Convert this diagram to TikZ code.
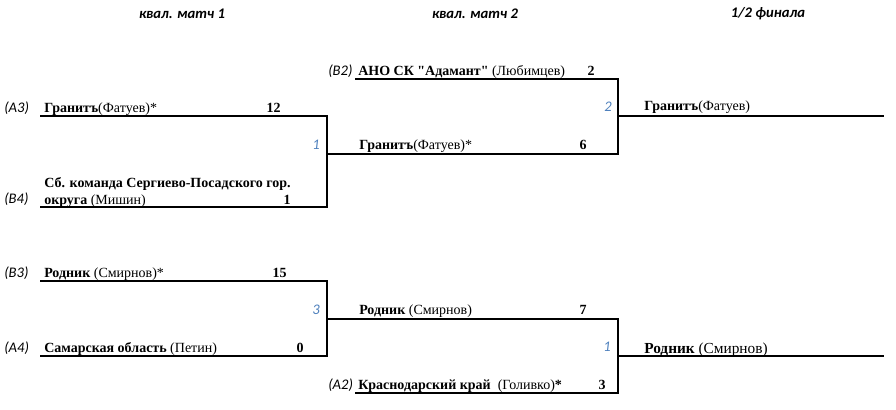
\documentclass[tikz,border=0pt]{standalone}
\usepackage{fontspec}
\setmainfont{Liberation Serif}
\newfontfamily\hdfont{Carlito}
\usepackage{xcolor}
\usetikzlibrary{positioning,calc}
\definecolor{gameblue}{HTML}{4F81BD}

\begin{document}
\begin{tikzpicture}[x=0.75pt,y=-0.75pt,
  team/.style={anchor=base west,inner sep=0pt,font=\fontsize{10.5}{12}\selectfont},
  seed/.style={anchor=base west,inner sep=0pt,font=\hdfont\itshape\fontsize{11}{12}\selectfont},
  score/.style={anchor=base east,inner sep=0pt,font=\bfseries\fontsize{10.5}{12}\selectfont},
  game/.style={anchor=base east,inner sep=0pt,text=gameblue,font=\hdfont\itshape\fontsize{11}{12}\selectfont},
  head/.style={inner sep=0pt,font=\hdfont\bfseries\itshape\fontsize{11}{12}\selectfont},
  bline/.style={line width=1.5pt}]
\useasboundingbox (0,0) rectangle (896,410);
% headings
\node[head] (h1) at (182,14) {квал. матч 1};
\node[head] (h2) at (475,14) {квал. матч 2};
\node[head] (h3) at (768,14) {1/2 финала};
% bracket ends
\coordinate (a3l) at (40,116);
\coordinate (b4l) at (40,207);
\coordinate (m1) at (327,154);
\coordinate (b2l) at (355,79);
\coordinate (m2) at (618,116);
\coordinate (f1) at (884,116);
\coordinate (b3l) at (40,281);
\coordinate (a4l) at (40,356);
\coordinate (m3) at (327,319);
\coordinate (a2l) at (355,393);
\coordinate (m4) at (618,356);
\coordinate (f2) at (884,356);
\draw[bline] (a3l) -| (m1) |- (b4l);
\draw[bline] (b2l) -| (m2) |- (m1);
\draw[bline] (m2) -- (f1);
\draw[bline] (b3l) -| (m3) |- (a4l);
\draw[bline] (a2l) -| (m4) |- (m3);
\draw[bline] (m4) -- (f2);
% match 1
\node[seed] (sa3) at (4,113) {(A3)};
\node[team] (ta3) at (44,113) {\textbf{Гранитъ}(Фатуев)*};
\node[score] (ca3) at (281,113) {12};
\node[seed] (sb4) at (4,203) {(B4)};
\node[team] (tb4) at (44,187) {\textbf{Сб. команда Сергиево-Посадского гор.}};
\node[team] (tb4b) at (44,204) {\textbf{округа} (Мишин)};
\node[score] (cb4) at (291,204) {1};
\node[game] (g1) at (320,149) {1};
% match 2
\node[seed] (sb2) at (328,75) {(B2)};
\node[team] (tb2) at (358,75) {\textbf{АНО СК \textquotedbl Адамант\textquotedbl} (Любимцев)};
\node[score] (cb2) at (595,75) {2};
\node[team] (tw1) at (359,149) {\textbf{Гранитъ}(Фатуев)*};
\node[score] (cw1) at (587,149) {6};
\node[game] (g2) at (612,112) {2};
\node[team] (tf1) at (644,111) {\textbf{Гранитъ}(Фатуев)};
% match 3
\node[seed] (sb3) at (4,277) {(B3)};
\node[team] (tb3) at (44,277) {\textbf{Родник} (Смирнов)*};
\node[score] (cb3) at (287,277) {15};
\node[seed] (sa4) at (4,352) {(A4)};
\node[team] (ta4) at (44,352) {\textbf{Самарская область} (Петин)};
\node[score] (ca4) at (304,352) {0};
\node[game] (g3) at (320,314) {3};
% final bottom
\node[team] (tw3) at (359,314) {\textbf{Родник} (Смирнов)};
\node[score] (cw3) at (587,314) {7};
\node[seed] (sa2) at (328,389) {(A2)};
\node[team] (ta2) at (358,389) {\textbf{Краснодарский край}\enspace(Голивко)\textbf{*}};
\node[score] (ca2) at (606,389) {3};
\node[game] (g4) at (611,351) {1};
\node[team,font=\fontsize{11.5}{13}\selectfont] (tf2) at (644,353) {\textbf{Родник} (Смирнов)};
\end{tikzpicture}
\end{document}
